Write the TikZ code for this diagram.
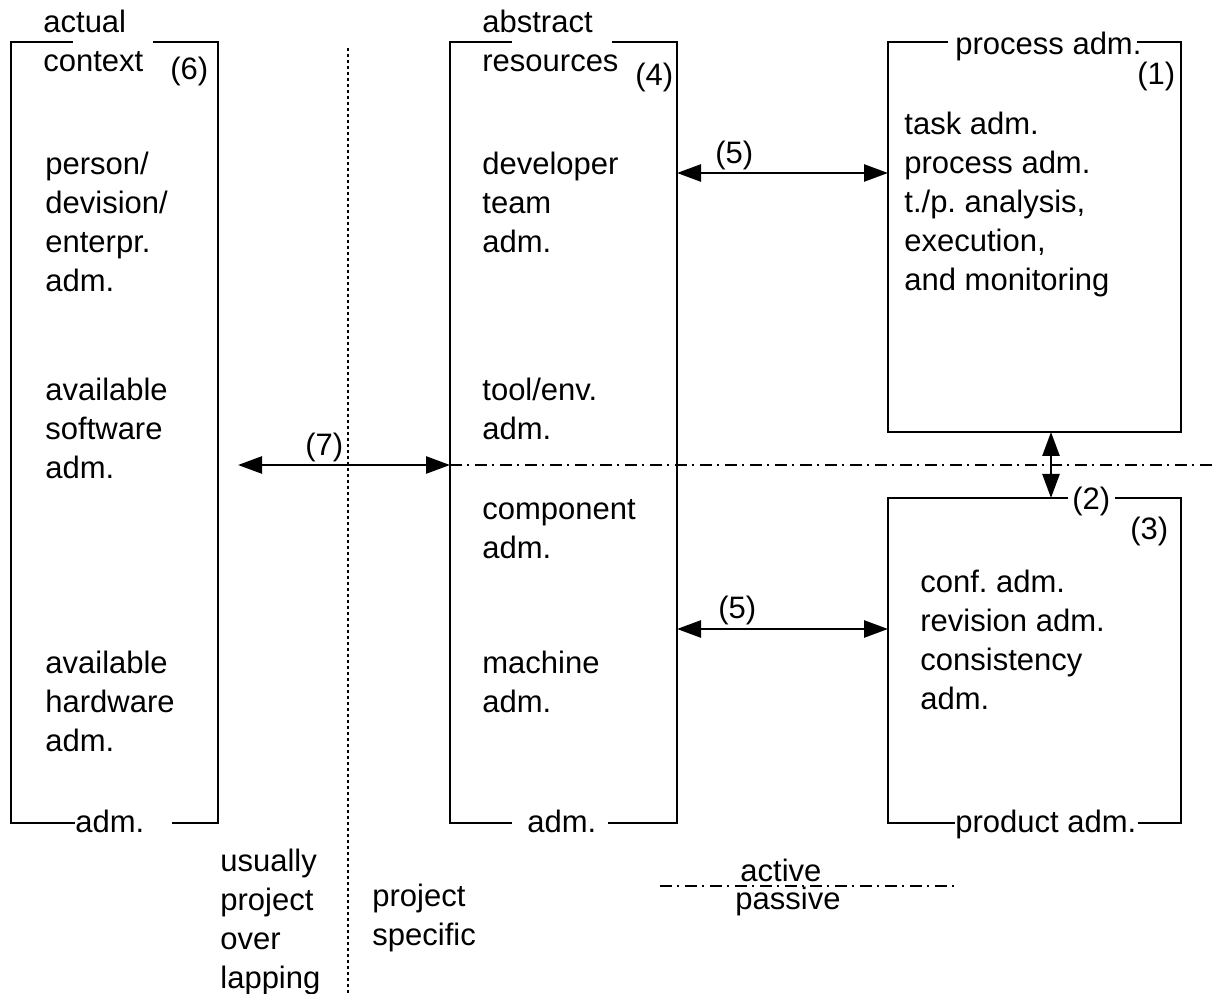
\documentclass[tikz,border=0pt]{standalone}
\usepackage{fontspec}
\setmainfont{Liberation Sans}
\usetikzlibrary{arrows.meta}
\tikzset{
 txt/.style={inner sep=0pt, anchor=base west, align=left, font=\fontsize{15.5}{19.5}\selectfont\frenchspacing},
 frame/.style={line width=0.75pt},
 dbl/.style={line width=1.3pt, {Triangle[length=12pt,width=8.5pt]}-{Triangle[length=12pt,width=8.5pt]}},
 dashdot/.style={line width=0.75pt, dash pattern=on 6pt off 2.5pt on 1pt off 3pt},
 dotline/.style={line width=0.6pt, dash pattern=on 1.5pt off 1.5pt},
}
\begin{document}
\begin{tikzpicture}[x=0.5pt,y=-0.5pt]
\useasboundingbox (0,0) rectangle (1212,994);
% box (6)
\draw[frame] (73,42) -- (11,42) -- (11,823) -- (75,823);
\draw[frame] (153,42) -- (218,42) -- (218,823) -- (172,823);
% box (4)
\draw[frame] (512,42) -- (450,42) -- (450,823) -- (512,823);
\draw[frame] (612,42) -- (677,42) -- (677,823) -- (608,823);
% box (1)
\draw[frame] (948,42) -- (888,42) -- (888,432) -- (1181,432) -- (1181,42) -- (1137,42);
% box (3)
\draw[frame] (1068,498) -- (888,498) -- (888,823) -- (955,823);
\draw[frame] (1115,498) -- (1181,498) -- (1181,823) -- (1138,823);
% separators
\draw[dotline] (348,48) -- (348,994);
\draw[dashdot] (450,465) -- (1212,465);
\draw[dashdot] (660,886) -- (954,886);
% connector ends
\coordinate (b6e) at (238,465);
\coordinate (b4w7) at (450,465);
\coordinate (b4e5a) at (677,173);
\coordinate (b1w5) at (888,173);
\coordinate (b4e5b) at (677,629);
\coordinate (b3w5) at (888,629);
\coordinate (b1s) at (1051,432);
\coordinate (b3n) at (1051,498);
\draw[dbl] (b6e) -- (b4w7);
\draw[dbl] (b4e5a) -- (b1w5);
\draw[dbl] (b4e5b) -- (b3w5);
\draw[dbl] (b1s) -- (b3n);
% labels (y = baseline of last line)
\node[txt] (t6) at (43,72) {actual\\context};
\node[txt] (n6) at (170,80) {(6)};
\node[txt] (t4) at (482,72) {abstract\\resources};
\node[txt] (n4) at (635,86) {(4)};
\node[txt] (t1) at (955,55) {process adm.};
\node[txt] (n1) at (1137,85) {(1)};
\node[txt] (n2) at (1072,510) {(2)};
\node[txt] (n3) at (1130,540) {(3)};
\node[txt] (a6) at (75,833) {adm.};
\node[txt] (a4) at (527,833) {adm.};
\node[txt] (t3) at (955,833) {product adm.};
% contents
\node[txt] (l1) at (45,292) {person/\\devision/\\enterpr.\\adm.};
\node[txt] (l2) at (45,479) {available\\software\\adm.};
\node[txt] (l3) at (45,752) {available\\hardware\\adm.};
\node[txt] (m1) at (482,253) {developer\\team\\adm.};
\node[txt] (m2) at (482,440) {tool/env.\\adm.};
\node[txt] (m3) at (482,559) {component\\adm.};
\node[txt] (m4) at (482,713) {machine\\adm.};
\node[txt] (r1) at (904,291) {task adm.\\process adm.\\t./p. analysis,\\execution,\\and monitoring};
\node[txt] (r2) at (920,710) {conf. adm.\\revision adm.\\consistency\\adm.};
% arrow labels
\node[txt] (c5a) at (715,164) {(5)};
\node[txt] (c5b) at (718,619) {(5)};
\node[txt] (c7) at (305,456) {(7)};
% bottom texts
\node[txt] (u) at (220,988) {usually\\project\\over\\lapping};
\node[txt] (ps) at (372,945) {project\\specific};
\node[txt] (act) at (740,882) {active};
\node[txt] (pas) at (735,910) {passive};
\end{tikzpicture}
\end{document}
